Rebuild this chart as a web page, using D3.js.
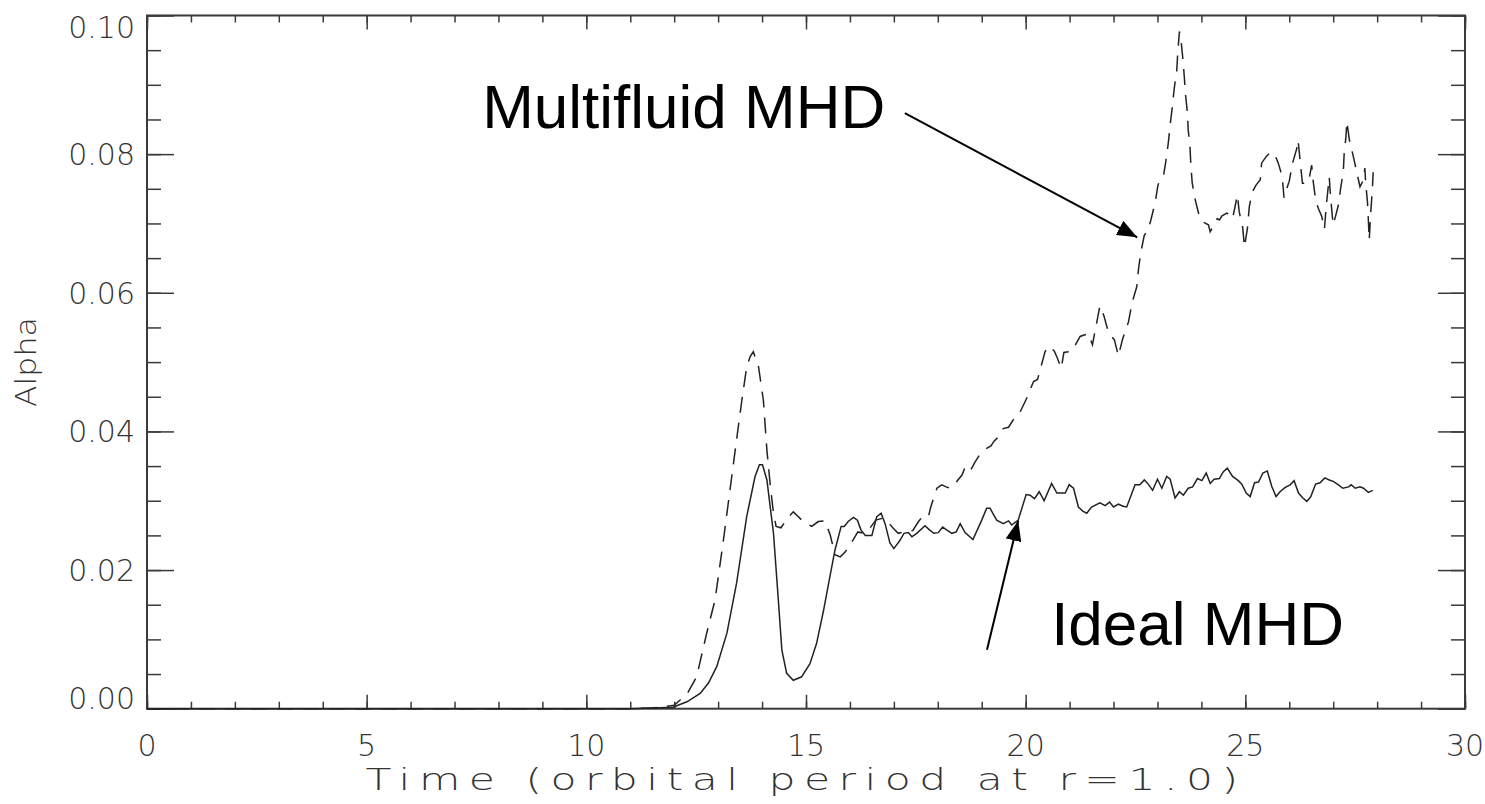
<!DOCTYPE html>
<html>
<head>
<meta charset="utf-8">
<script src="https://cdn.jsdelivr.net/npm/d3@7"></script>
<style>
  html, body { margin: 0; padding: 0; background: #fff; }
</style>
</head>
<body>
<svg id="chart" width="1485" height="804"></svg>
<script>
// Ideal MHD run: time (orbits at r=1) and alpha
const idealTime = [0, 10, 11, 11.5, 11.97, 12.29, 12.59, 12.78, 12.97, 13.20, 13.42, 13.65, 13.84, 13.94, 14.01, 14.11, 14.26, 14.37, 14.45, 14.56, 14.71, 14.90, 15.09, 15.24, 15.40, 15.53, 15.66, 15.80, 15.87, 15.96, 16.08, 16.17, 16.25, 16.35, 16.50, 16.61, 16.71, 16.80, 16.91, 17.00, 17.14, 17.23, 17.33, 17.41, 17.52, 17.71, 17.81, 17.91, 18.01, 18.11, 18.20, 18.32, 18.42, 18.51, 18.62, 18.80, 19.00, 19.11, 19.19, 19.34, 19.49, 19.61, 19.68, 19.83, 20.01, 20.10, 20.20, 20.31, 20.42, 20.59, 20.71, 20.90, 20.99, 21.09, 21.20, 21.30, 21.39, 21.50, 21.69, 21.81, 21.91, 22.00, 22.11, 22.22, 22.30, 22.49, 22.60, 22.70, 22.79, 22.89, 23.00, 23.10, 23.21, 23.29, 23.40, 23.50, 23.59, 23.70, 23.80, 23.91, 24.01, 24.11, 24.20, 24.29, 24.41, 24.50, 24.59, 24.71, 24.84, 24.92, 25.02, 25.11, 25.21, 25.30, 25.40, 25.50, 25.60, 25.70, 25.79, 25.90, 26.02, 26.11, 26.21, 26.31, 26.40, 26.49, 26.60, 26.70, 26.81, 26.91, 27.00, 27.12, 27.22, 27.35, 27.41, 27.50, 27.61, 27.69, 27.80, 27.90];
const idealAlpha = [0, 0, 0, 0.0001, 0.0002, 0.0010, 0.0022, 0.0037, 0.0061, 0.0109, 0.0181, 0.0277, 0.0335, 0.0352, 0.0352, 0.0330, 0.0253, 0.0157, 0.0085, 0.0051, 0.0041, 0.0046, 0.0065, 0.0094, 0.0142, 0.0186, 0.0229, 0.0263, 0.0263, 0.0270, 0.0276, 0.0272, 0.0258, 0.0250, 0.0250, 0.0277, 0.0282, 0.0267, 0.0239, 0.0231, 0.0243, 0.0253, 0.0254, 0.0248, 0.0253, 0.0264, 0.0258, 0.0253, 0.0254, 0.0262, 0.0258, 0.0253, 0.0255, 0.0267, 0.0254, 0.0244, 0.0272, 0.0289, 0.0289, 0.0272, 0.0267, 0.0271, 0.0265, 0.0272, 0.0309, 0.0308, 0.0303, 0.0313, 0.0300, 0.0325, 0.0311, 0.0311, 0.0323, 0.0318, 0.0291, 0.0285, 0.0282, 0.0291, 0.0297, 0.0293, 0.0298, 0.0291, 0.0295, 0.0292, 0.0291, 0.0323, 0.0323, 0.0330, 0.0324, 0.0315, 0.0331, 0.0318, 0.0335, 0.0331, 0.0304, 0.0313, 0.0308, 0.0318, 0.0320, 0.0332, 0.0329, 0.0340, 0.0325, 0.0331, 0.0332, 0.0342, 0.0347, 0.0335, 0.0329, 0.0324, 0.0311, 0.0306, 0.0326, 0.0327, 0.0340, 0.0343, 0.0321, 0.0306, 0.0313, 0.0319, 0.0323, 0.0329, 0.0311, 0.0304, 0.0299, 0.0306, 0.0324, 0.0326, 0.0333, 0.0330, 0.0328, 0.0323, 0.0318, 0.0320, 0.0323, 0.0318, 0.0320, 0.0318, 0.0312, 0.0315];

// Multifluid MHD run
const multiTime = [0, 10, 11, 11.5, 12.00, 12.30, 12.51, 12.74, 12.93, 13.12, 13.31, 13.42, 13.54, 13.65, 13.73, 13.80, 13.92, 14.03, 14.11, 14.19, 14.26, 14.32, 14.43, 14.58, 14.71, 14.81, 14.95, 15.13, 15.28, 15.43, 15.55, 15.66, 15.78, 15.89, 16.04, 16.18, 16.32, 16.46, 16.59, 16.76, 16.87, 16.99, 17.10, 17.22, 17.33, 17.43, 17.55, 17.67, 17.79, 17.84, 17.98, 18.09, 18.19, 18.28, 18.42, 18.55, 18.62, 18.73, 18.85, 18.94, 19.04, 19.21, 19.28, 19.38, 19.49, 19.61, 19.71, 19.85, 20.01, 20.10, 20.18, 20.27, 20.33, 20.44, 20.53, 20.65, 20.72, 20.81, 20.87, 20.97, 21.05, 21.24, 21.33, 21.43, 21.52, 21.62, 21.69, 21.78, 21.88, 21.94, 22.02, 22.11, 22.21, 22.34, 22.42, 22.53, 22.57, 22.62, 22.70, 22.79, 22.85, 22.95, 23.01, 23.06, 23.14, 23.20, 23.25, 23.29, 23.34, 23.38, 23.44, 23.46, 23.50, 23.54, 23.58, 23.61, 23.64, 23.68, 23.70, 23.74, 23.76, 23.79, 23.86, 23.95, 24.04, 24.16, 24.20, 24.27, 24.36, 24.41, 24.47, 24.58, 24.65, 24.71, 24.82, 24.86, 24.94, 24.98, 25.05, 25.09, 25.15, 25.24, 25.34, 25.37, 25.47, 25.56, 25.66, 25.75, 25.81, 25.85, 25.88, 25.93, 26.00, 26.07, 26.17, 26.20, 26.22, 26.26, 26.30, 26.36, 26.44, 26.51, 26.55, 26.60, 26.66, 26.74, 26.80, 26.84, 26.91, 26.93, 26.97, 27.00, 27.06, 27.12, 27.17, 27.23, 27.25, 27.29, 27.31, 27.37, 27.46, 27.56, 27.61, 27.69, 27.72, 27.74, 27.78, 27.80, 27.82, 27.85, 27.89, 27.91];
const multiAlpha = [0, 0, 0, 0.0001, 0.0005, 0.0022, 0.0046, 0.0109, 0.0157, 0.0243, 0.0335, 0.0388, 0.0445, 0.0493, 0.0508, 0.0515, 0.0493, 0.0445, 0.0373, 0.0320, 0.0282, 0.0263, 0.0261, 0.0275, 0.0284, 0.0278, 0.0269, 0.0263, 0.0270, 0.0271, 0.0251, 0.0222, 0.0219, 0.0226, 0.0240, 0.0255, 0.0253, 0.0261, 0.0272, 0.0275, 0.0269, 0.0260, 0.0253, 0.0255, 0.0256, 0.0257, 0.0269, 0.0279, 0.0278, 0.0291, 0.0318, 0.0323, 0.0320, 0.0318, 0.0327, 0.0337, 0.0348, 0.0342, 0.0356, 0.0365, 0.0373, 0.0379, 0.0386, 0.0392, 0.0404, 0.0406, 0.0416, 0.0425, 0.0446, 0.0460, 0.0472, 0.0475, 0.0489, 0.0515, 0.0523, 0.0516, 0.0506, 0.0491, 0.0514, 0.0515, 0.0516, 0.0537, 0.0539, 0.0541, 0.0525, 0.0558, 0.0581, 0.0567, 0.0544, 0.0538, 0.0532, 0.0509, 0.0534, 0.0558, 0.0585, 0.0609, 0.0635, 0.0658, 0.0683, 0.0691, 0.0705, 0.0731, 0.0755, 0.0763, 0.0770, 0.0793, 0.0818, 0.0843, 0.0869, 0.0894, 0.0921, 0.0945, 0.0977, 0.0962, 0.0936, 0.0912, 0.0885, 0.0861, 0.0835, 0.0811, 0.0784, 0.0759, 0.0734, 0.0711, 0.0702, 0.0698, 0.0688, 0.0696, 0.0707, 0.0705, 0.0711, 0.0715, 0.0712, 0.0707, 0.0741, 0.0717, 0.0694, 0.0666, 0.0694, 0.0724, 0.0744, 0.0755, 0.0763, 0.0787, 0.0796, 0.0802, 0.0801, 0.0787, 0.0774, 0.0760, 0.0737, 0.0748, 0.0761, 0.0786, 0.0808, 0.0820, 0.0808, 0.0782, 0.0758, 0.0758, 0.0760, 0.0784, 0.0758, 0.0734, 0.0722, 0.0710, 0.0692, 0.0724, 0.0767, 0.0748, 0.0717, 0.0698, 0.0712, 0.0727, 0.0751, 0.0775, 0.0801, 0.0825, 0.0847, 0.0820, 0.0796, 0.0767, 0.0753, 0.0763, 0.0780, 0.0758, 0.0731, 0.0705, 0.0676, 0.0712, 0.0748, 0.0774];

// Axis ticks and labels
const xMajorTicks = [0, 5, 10, 15, 20, 25, 30];
const xMajorLabels = ["0", "5", "10", "15", "20", "25", "30"];
const yMajorTicks = [0, 0.02, 0.04, 0.06, 0.08, 0.10];
const yMajorLabels = ["0.00", "0.02", "0.04", "0.06", "0.08", "0.10"];
const xTitle = "Time (orbital period at r=1.0)";
const yTitle = "Alpha";

// Annotations: label text, label anchor, arrow tail and head (data units)
const notes = [
  { text: "Multifluid MHD", tx: 7.63, ta: 0.0838, x0: 17.25, a0: 0.0859, x1: 22.54, a1: 0.0680 },
  { text: "Ideal MHD", tx: 20.58, ta: 0.0092, x0: 19.12, a0: 0.0085, x1: 19.83, a1: 0.0271 }
];

const svg = d3.select("#chart");
const margin = { left: 147, right: 20, top: 15.5, bottom: 95.3 };
const W = 1485, H = 804;
const x = d3.scaleLinear().domain([0, 30]).range([margin.left, W - margin.right]);
const y = d3.scaleLinear().domain([0, 0.10]).range([H - margin.bottom, margin.top]);
const x0 = x.range()[0], x1 = x.range()[1], y0 = y.range()[0], y1 = y.range()[1];

const axisColor = "#3a3a3a";
const textColor = "#333";
const axisFont = "'DejaVu Sans', sans-serif";

// Minor and major ticks on all four sides, pointing inward
const xMinor = d3.range(0, 31, 1);
const yMinor = d3.range(0, 0.1001, 0.005);
function tickAxis(gen, values, size, transform) {
  svg.append("g").attr("transform", transform)
    .call(gen.tickValues(values).tickSize(size).tickSizeOuter(0).tickFormat(""))
    .call(g => g.select(".domain").remove())
    .call(g => g.selectAll("line").attr("stroke", axisColor).attr("stroke-width", 1.5));
}
tickAxis(d3.axisBottom(x), xMinor, -7, `translate(0,${y0})`);
tickAxis(d3.axisBottom(x), xMajorTicks, -14, `translate(0,${y0})`);
tickAxis(d3.axisTop(x), xMinor, -7, `translate(0,${y1})`);
tickAxis(d3.axisTop(x), xMajorTicks, -14, `translate(0,${y1})`);
tickAxis(d3.axisLeft(y), yMinor, -14, `translate(${x0},0)`);
tickAxis(d3.axisLeft(y), yMajorTicks, -27, `translate(${x0},0)`);
tickAxis(d3.axisRight(y), yMinor, -14, `translate(${x1},0)`);
tickAxis(d3.axisRight(y), yMajorTicks, -27, `translate(${x1},0)`);

// Plot frame
svg.append("rect")
  .attr("x", x0).attr("y", y1).attr("width", x1 - x0).attr("height", y0 - y1)
  .attr("fill", "none").attr("stroke", axisColor).attr("stroke-width", 2);

// Tick labels
svg.append("g").selectAll("text").data(xMajorTicks).join("text")
  .attr("x", d => x(d)).attr("y", y0 + 47)
  .attr("text-anchor", "middle")
  .style("font-family", axisFont)
  .attr("font-size", 30).attr("font-weight", 200).attr("fill", textColor)
  .text((d, i) => xMajorLabels[i]);

svg.append("g").selectAll("text").data(yMajorTicks).join("text")
  .attr("x", x0 - 12)
  .attr("y", d => Math.max(y1 + 12, Math.min(y0 - 11, y(d))))
  .attr("dy", "0.36em")
  .attr("text-anchor", "end")
  .style("font-family", axisFont)
  .attr("font-size", 30).attr("font-weight", 200).attr("fill", textColor)
  .text((d, i) => yMajorLabels[i]);

// Axis titles
svg.append("text")
  .attr("x", (x0 + x1) / 2).attr("y", 790)
  .attr("text-anchor", "middle")
  .style("font-family", axisFont)
  .style("letter-spacing", "6px")
  .attr("font-size", 30).attr("font-weight", 200).attr("fill", textColor)
  .attr("textLength", 881).attr("lengthAdjust", "spacingAndGlyphs")
  .text(xTitle);

svg.append("text")
  .attr("transform", `translate(36,${(y0 + y1) / 2}) rotate(-90)`)
  .attr("text-anchor", "middle")
  .style("font-family", axisFont)
  .attr("font-size", 28).attr("font-weight", 200).attr("fill", textColor)
  .attr("textLength", 90).attr("lengthAdjust", "spacingAndGlyphs")
  .text(yTitle);

// Data curves
const line = d3.line().x(d => x(d[0])).y(d => y(d[1]));
const ideal = idealTime.map((t, i) => [t, idealAlpha[i]]);
const multi = multiTime.map((t, i) => [t, multiAlpha[i]]);

svg.append("path").datum(multi)
  .attr("d", line)
  .attr("fill", "none").attr("stroke", "#222").attr("stroke-width", 1.5)
  .attr("stroke-dasharray", "16,10");

svg.append("path").datum(ideal)
  .attr("d", line)
  .attr("fill", "none").attr("stroke", "#222").attr("stroke-width", 1.5);

// Annotation labels and arrows
const defs = svg.append("defs");
defs.append("marker")
  .attr("id", "head").attr("viewBox", "0 0 20 16")
  .attr("refX", 20).attr("refY", 8)
  .attr("markerWidth", 20).attr("markerHeight", 16)
  .attr("markerUnits", "userSpaceOnUse")
  .attr("orient", "auto")
  .append("path").attr("d", "M0,0 L20,8 L0,16 Z").attr("fill", "#000");

const ann = svg.append("g");
ann.selectAll("line").data(notes).join("line")
  .attr("x1", d => x(d.x0)).attr("y1", d => y(d.a0))
  .attr("x2", d => x(d.x1)).attr("y2", d => y(d.a1))
  .attr("stroke", "#000").attr("stroke-width", 2)
  .attr("marker-end", "url(#head)");
ann.selectAll("text").data(notes).join("text")
  .attr("x", d => x(d.tx)).attr("y", d => y(d.ta))
  .style("font-family", "'Liberation Sans', Arial, sans-serif")
  .attr("font-size", 62).attr("fill", "#000")
  .text(d => d.text);
</script>
</body>
</html>
